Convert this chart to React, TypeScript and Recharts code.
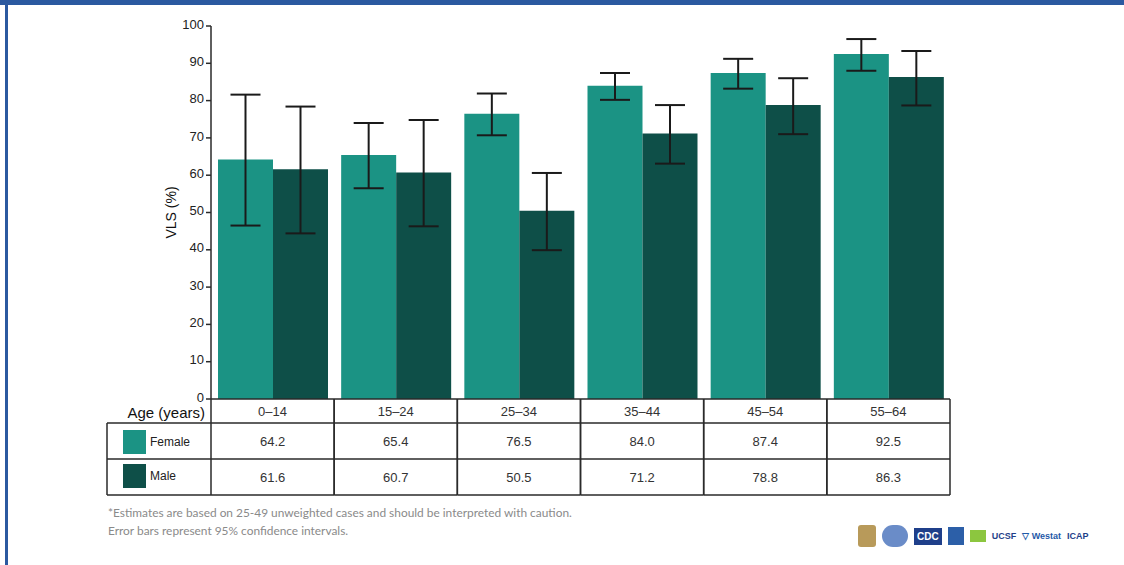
import React from "react"
import { BarChart, Bar, XAxis, YAxis, ErrorBar, Customized } from "recharts"

const categories = ["0–14", "15–24", "25–34", "35–44", "45–54", "55–64"]
const female = [64.2, 65.4, 76.5, 84.0, 87.4, 92.5]
const male = [61.6, 60.7, 50.5, 71.2, 78.8, 86.3]
const femaleLow = [46.5, 56.5, 70.7, 80.2, 83.2, 88.0]
const femaleHigh = [81.6, 74.0, 81.9, 87.4, 91.2, 96.5]
const maleLow = [44.4, 46.3, 39.9, 63.1, 71.0, 78.7]
const maleHigh = [78.4, 74.8, 60.6, 78.8, 86.0, 93.3]
const yTicks = [0, 10, 20, 30, 40, 50, 60, 70, 80, 90, 100]

const W = 1124
const H = 565
const margin = { top: 26, right: 174, bottom: 66, left: 151 }
const Y_AXIS_W = 60
const X_AXIS_H = 100
const PLOT_LEFT = margin.left + Y_AXIS_W
const PLOT_RIGHT = W - margin.right
const BAND = (PLOT_RIGHT - PLOT_LEFT) / categories.length

const FEMALE_COLOR = "#1b9384"
const MALE_COLOR = "#0e4f48"
const LINE = "#2a2a2a"
const FONT = "'Liberation Sans', Arial, sans-serif"

// table rows below the axis
const ROW_HEADER = 24
const ROW = 36

const data = categories.map((age, i) => ({
  age,
  female: female[i],
  male: male[i],
  femaleErr: [female[i] - femaleLow[i], femaleHigh[i] - female[i]],
  maleErr: [male[i] - maleLow[i], maleHigh[i] - male[i]],
}))

function TableTick(props: any) {
  const { x, y, payload } = props
  const i = categories.indexOf(payload.value)
  const left = x - BAND / 2
  const right = x + BAND / 2
  const r1 = y + ROW_HEADER
  const r2 = r1 + ROW
  const r3 = r2 + ROW
  return (
    <g>
      <line x1={left} y1={y} x2={left} y2={r3} stroke={LINE} strokeWidth={1.5} />
      <line x1={right} y1={y} x2={right} y2={r3} stroke={LINE} strokeWidth={1.5} />
      <line x1={left} y1={r1} x2={right} y2={r1} stroke={LINE} strokeWidth={1.5} />
      <line x1={left} y1={r2} x2={right} y2={r2} stroke={LINE} strokeWidth={1.5} />
      <line x1={left} y1={r3} x2={right} y2={r3} stroke={LINE} strokeWidth={1.5} />
      <text x={x} y={y + 17} textAnchor="middle" fontSize={13} fill="#333" fontFamily={FONT}>
        {payload.value}
      </text>
      <text x={x} y={r1 + 23} textAnchor="middle" fontSize={13} fill="#333" fontFamily={FONT}>
        {female[i].toFixed(1)}
      </text>
      <text x={x} y={r2 + 23} textAnchor="middle" fontSize={13} fill="#333" fontFamily={FONT}>
        {male[i].toFixed(1)}
      </text>
    </g>
  )
}

function LeftColumn() {
  const top = H - margin.bottom - X_AXIS_H
  const left = 107
  const r1 = top + ROW_HEADER
  const r2 = r1 + ROW
  const r3 = r2 + ROW
  return (
    <g>
      <text x={PLOT_LEFT - 6} y={top + 19} textAnchor="end" fontSize={15} fill="#111" fontFamily={FONT}>
        Age (years)
      </text>
      <line x1={left} y1={r1} x2={PLOT_LEFT} y2={r1} stroke={LINE} strokeWidth={1.5} />
      <line x1={left} y1={r2} x2={PLOT_LEFT} y2={r2} stroke={LINE} strokeWidth={1.5} />
      <line x1={left} y1={r3} x2={PLOT_LEFT} y2={r3} stroke={LINE} strokeWidth={1.5} />
      <line x1={left} y1={r1} x2={left} y2={r3} stroke={LINE} strokeWidth={1.5} />
      <rect x={123} y={r1 + 7} width={23} height={24} fill={FEMALE_COLOR} />
      <text x={150} y={r1 + 23} fontSize={12} fill="#222" fontFamily={FONT}>Female</text>
      <rect x={123} y={r2 + 5} width={23} height={24} fill={MALE_COLOR} />
      <text x={150} y={r2 + 21} fontSize={12} fill="#222" fontFamily={FONT}>Male</text>
    </g>
  )
}

function Logos() {
  const box: React.CSSProperties = { display: "inline-block", marginRight: 6, verticalAlign: "middle" }
  return (
    <div style={{ position: "absolute", left: 858, top: 525, height: 24, fontFamily: FONT, fontSize: 9, whiteSpace: "nowrap" }}>
      <span style={{ ...box, width: 18, height: 22, background: "#b89a5a", borderRadius: 3 }} />
      <span style={{ ...box, width: 26, height: 22, background: "#6a8cc8", borderRadius: 11 }} />
      <span style={{ ...box, background: "#1f3f8a", color: "#fff", fontWeight: 700, fontSize: 10, padding: "3px 3px" }}>CDC</span>
      <span style={{ ...box, width: 16, height: 18, background: "#2c5fa8" }} />
      <span style={{ ...box, width: 16, height: 12, background: "#8cc63f" }} />
      <span style={{ ...box, color: "#1f3f8a", fontWeight: 700 }}>UCSF</span>
      <span style={{ ...box, color: "#1f5aa8", fontWeight: 700 }}>▽ Westat</span>
      <span style={{ ...box, color: "#1f3f8a", fontWeight: 700 }}>ICAP</span>
    </div>
  )
}

export default function App() {
  return (
    <div style={{ position: "absolute", left: 0, top: 0, width: W, height: H, background: "#fff", overflow: "hidden" }}>
      <div style={{ position: "absolute", left: 0, top: 0, width: W, height: 5, background: "#2b59a0" }} />
      <div style={{ position: "absolute", left: 5, top: 0, width: 3, height: H, background: "#2b59a0" }} />
      <BarChart width={W} height={H} data={data} margin={margin} barGap={0} barSize={55}>
        <YAxis
          width={Y_AXIS_W}
          domain={[0, 100]}
          ticks={yTicks}
          interval={0}
          axisLine={{ stroke: LINE, strokeWidth: 1.5 }}
          tickLine={{ stroke: LINE, strokeWidth: 1.5 }}
          tickSize={5}
          tick={{ fontSize: 13, fill: "#222", fontFamily: FONT, dy: -2 }}
          label={{ value: "VLS (%)", angle: -90, position: "insideLeft", offset: 20, style: { fontSize: 14, fill: "#111", fontFamily: FONT, textAnchor: "middle" } }}
        />
        <XAxis
          dataKey="age"
          height={X_AXIS_H}
          interval={0}
          axisLine={{ stroke: LINE, strokeWidth: 1.5 }}
          tickLine={false}
          tickSize={0}
          tickMargin={0}
          tick={<TableTick />}
        />
        <Bar dataKey="female" fill={FEMALE_COLOR} isAnimationActive={false}>
          <ErrorBar dataKey="femaleErr" width={15} stroke="#1a1a1a" strokeWidth={2} direction="y" />
        </Bar>
        <Bar dataKey="male" fill={MALE_COLOR} isAnimationActive={false}>
          <ErrorBar dataKey="maleErr" width={15} stroke="#1a1a1a" strokeWidth={2} direction="y" />
        </Bar>
        <Customized component={LeftColumn} />
      </BarChart>
      <div style={{ position: "absolute", left: 108, top: 504, fontFamily: "Lato, sans-serif", fontSize: 11.9, color: "#8a8a8a", lineHeight: "18px" }}>
        <div>*Estimates are based on 25-49 unweighted cases and should be interpreted with caution.</div>
        <div>Error bars represent 95% confidence intervals.</div>
      </div>
      <Logos />
    </div>
  )
}
